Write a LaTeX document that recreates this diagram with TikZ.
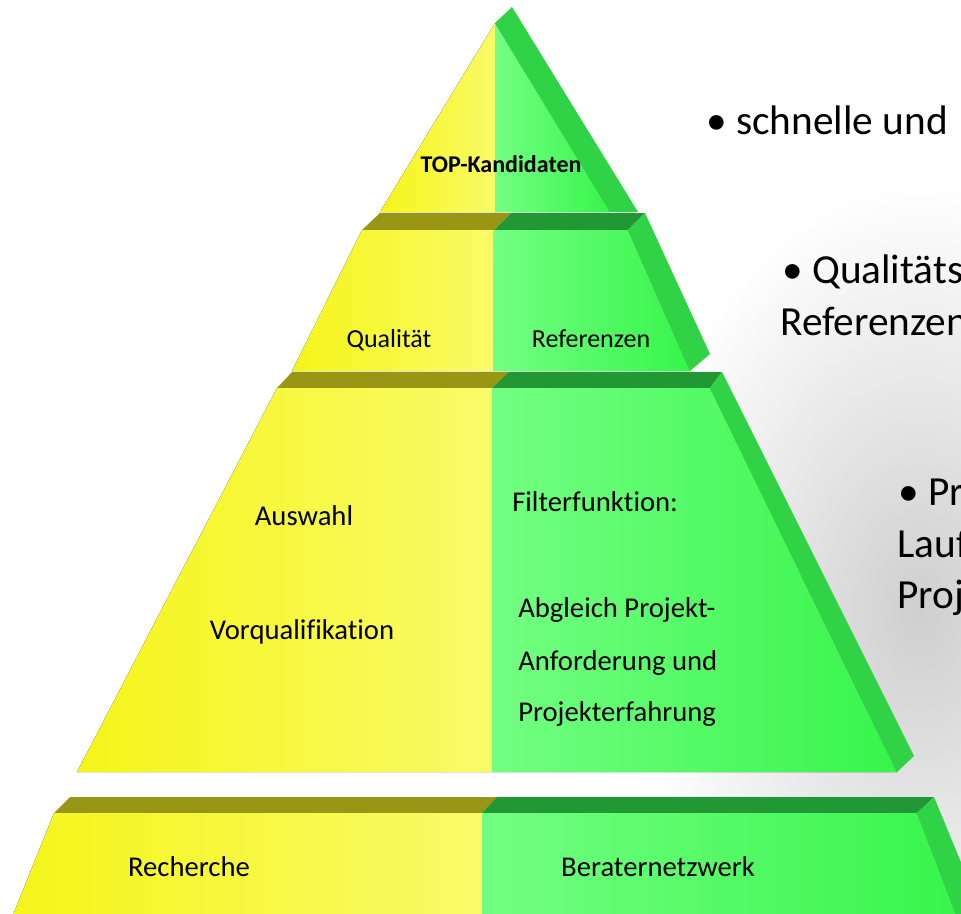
\documentclass[tikz,border=0pt]{standalone}
\usepackage{fontspec}
\setmainfont{Carlito}[Ligatures=NoCommon]
\definecolor{yelL}{RGB}{245,245,25}
\definecolor{yelR}{RGB}{250,250,105}
\definecolor{grnL}{RGB}{115,255,130}
\definecolor{grnR}{RGB}{55,245,75}
\definecolor{grnSide}{RGB}{48,210,70}
\definecolor{yelTop}{RGB}{152,150,20}
\definecolor{grnTop}{RGB}{34,152,52}

\begin{document}
\begin{tikzpicture}[x=0.75pt, y=-0.75pt,
    yface/.style = {left color=yelL, right color=yelR},
    gface/.style = {left color=grnL, right color=grnR},
    sface/.style = {fill=grnSide},
    ytop/.style  = {fill=yelTop},
    gtop/.style  = {fill=grnTop},
    toplbl/.style = {anchor=base, inner sep=0pt, font=\bfseries\fontsize{18}{22}\selectfont},
    lbl/.style    = {anchor=base, inner sep=0pt, font=\fontsize{19.5}{24}\selectfont},
    midlbl/.style = {anchor=base, inner sep=0pt, font=\fontsize{21.5}{26}\selectfont},
    leftlbl/.style = {midlbl, anchor=base west},
    sidetext/.style = {anchor=base west, inner sep=0pt, font=\fontsize{31}{37}\selectfont}]
    \useasboundingbox (0,0) rectangle (961,914);
    \clip (0,0) rectangle (961,914);

    % background
    \shade[inner color=gray!38, outer color=white] (920,610) ellipse [x radius=290, y radius=430];

    % tier 1
    \fill[yface] (495,23) -- (380,212) -- (495,212) -- cycle;
    \fill[gface] (495,23) -- (495,212) -- (610,212) -- cycle;
    \fill[sface] (495,23) -- (512,7) -- (638,212) -- (610,212) -- cycle;

    % tier 2
    \fill[ytop] (362,230) -- (380,213) -- (511,213) -- (494,230) -- cycle;
    \fill[gtop] (494,230) -- (511,213) -- (645,213) -- (628,230) -- cycle;
    \fill[yface] (362,230) -- (494,230) -- (493,371) -- (292,371) -- cycle;
    \fill[gface] (494,230) -- (628,230) -- (690,371) -- (493,371) -- cycle;
    \fill[sface] (628,230) -- (645,213) -- (710,354) -- (690,371) -- cycle;

    % tier 3
    \fill[ytop] (277,388) -- (292,372) -- (509,372) -- (492,388) -- cycle;
    \fill[gtop] (492,388) -- (509,372) -- (722,372) -- (710,388) -- cycle;
    \fill[yface] (277,388) -- (492,388) -- (492,772) -- (77,772) -- cycle;
    \fill[gface] (492,388) -- (710,388) -- (897,772) -- (492,772) -- cycle;
    \fill[sface] (710,388) -- (722,372) -- (914,756) -- (897,772) -- cycle;

    % tier 4
    \fill[ytop] (54,813) -- (70,797) -- (497,797) -- (482,813) -- cycle;
    \fill[gtop] (482,813) -- (497,797) -- (934,797) -- (917,813) -- cycle;
    \fill[yface] (54,813) -- (482,813) -- (482,930) -- (7,930) -- cycle;
    \fill[gface] (482,813) -- (917,813) -- (962,930) -- (482,930) -- cycle;
    \fill[sface] (917,813) -- (934,797) -- (989,930) -- (962,930) -- cycle;

    % labels
    \node[toplbl] (top) at (501,172) {TOP-Kandidaten};
    \node[lbl] (quali) at (389,347) {Qualität};
    \node[lbl] (refs) at (591,347) {Referenzen};
    \node[midlbl] (auswahl) at (304,525) {Auswahl};
    \node[midlbl] (vorq) at (302,639) {Vorqualifikation};
    \node[leftlbl] (filter) at (512,511) {Filterfunktion:};
    \node[leftlbl] (abgl) at (518,617) {Abgleich Projekt-};
    \node[leftlbl] (anf) at (518,670) {Anforderung und};
    \node[leftlbl] (proj) at (518,721) {Projekterfahrung};
    \node[midlbl] (rech) at (189,876) {Recherche};
    \node[midlbl] (netz) at (658,876) {Beraternetzwerk};

    % text on the right
    \node[sidetext] (t1) at (706,134) {• schnelle und};
    \node[sidetext] (t2) at (782,283) {• Qualitäts};
    \node[sidetext] (t3) at (780,335) {Referenzen};
    \node[sidetext] (t4) at (898,505) {• Pr};
    \node[sidetext] (t5) at (897,557) {Lauf};
    \node[sidetext] (t6) at (897,608) {Proj};
\end{tikzpicture}
\end{document}
